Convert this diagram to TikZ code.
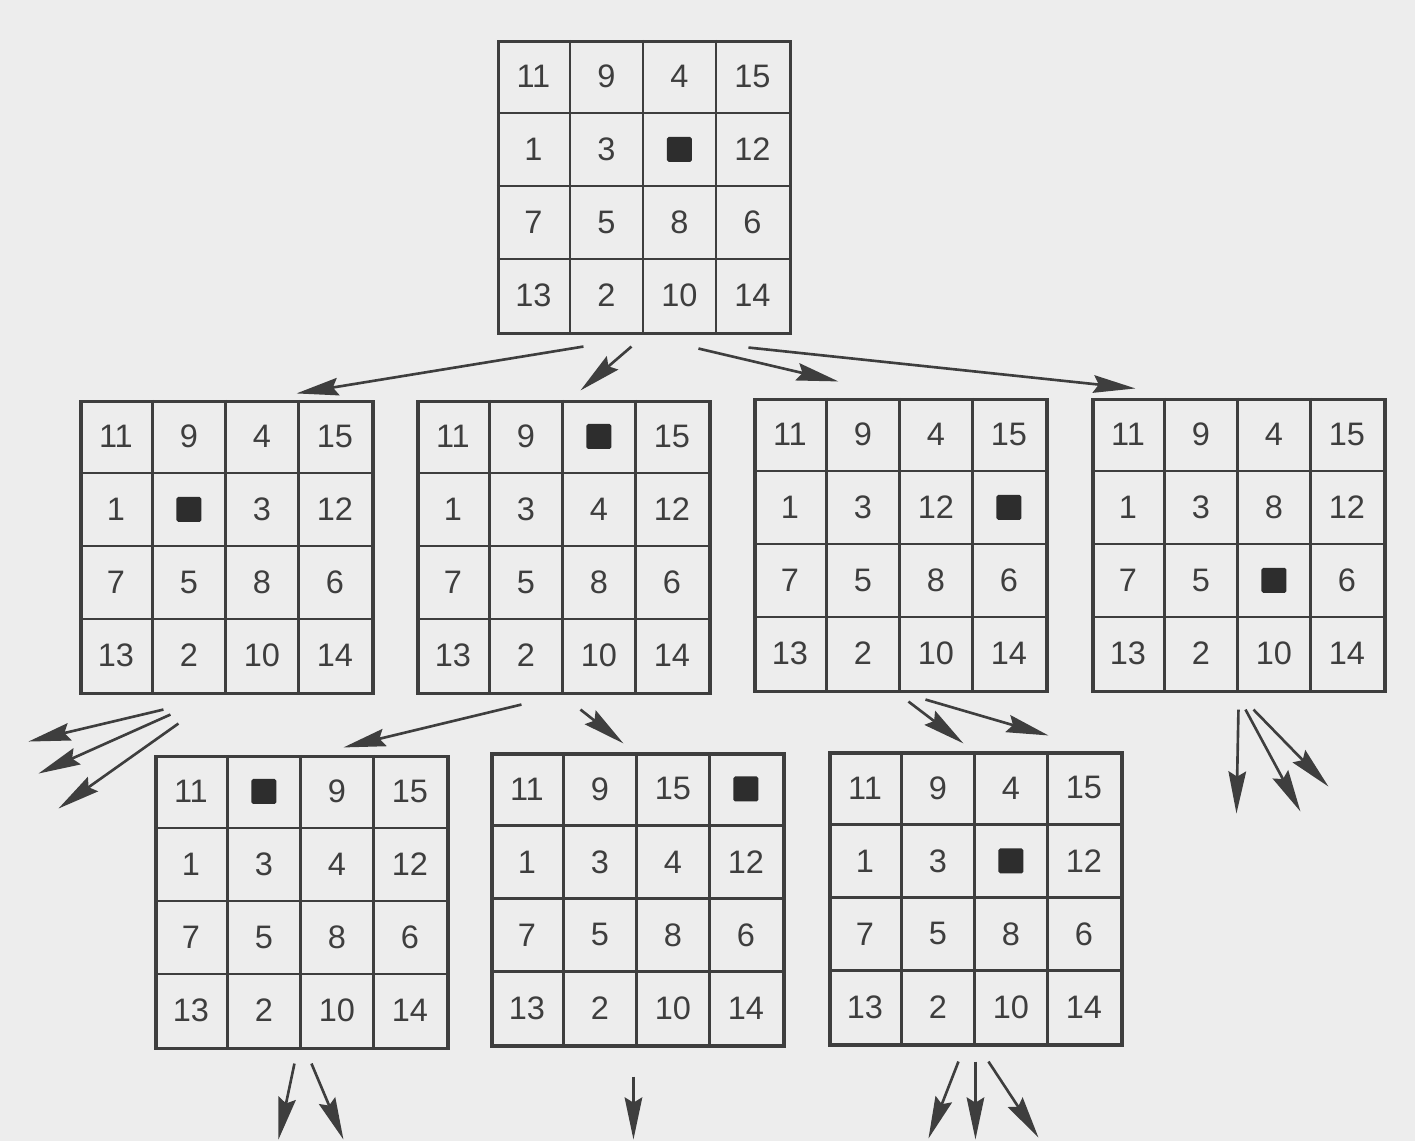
\documentclass[tikz,border=0pt]{standalone}
\usepackage{fontspec}
\setmainfont{Liberation Sans}
\usetikzlibrary{positioning, arrows.meta, calc}
\usepackage{xcolor}
\definecolor{papercolor}{RGB}{237, 237, 237}
\definecolor{inkcolor}{RGB}{62, 62, 62}
\definecolor{holecolor}{RGB}{45, 45, 45}

% one 4x4 board: name, centre, sixteen entries row by row (0 = empty tile)
\newcommand{\puzzle}[3]{%
  \node[draw=inkcolor, line width=1.8pt, minimum size=5.84cm,
        inner sep=0pt] (#1) at (#2) {};
  \foreach \k in {1,2,3} {
    \draw[gridline] ([xshift=\k*1.46cm]#1.north west) -- ([xshift=\k*1.46cm]#1.south west);
    \draw[gridline] ([yshift=-\k*1.46cm]#1.north west) -- ([yshift=-\k*1.46cm]#1.north east);
  }
  \foreach \v [count=\i from 0] in {#3} {
    \pgfmathtruncatemacro\trow{\i/4}
    \pgfmathtruncatemacro\tcol{mod(\i,4)}
    \ifnum\v=0\relax
      \node[holetile] at ([shift={(\tcol*1.46cm+0.73cm,-\trow*1.46cm-0.73cm)}]#1.north west) {};
    \else
      \node[tilenum] at ([shift={(\tcol*1.46cm+0.73cm,-\trow*1.46cm-0.73cm)}]#1.north west) {\v};
    \fi
  }
}

\begin{document}
\begin{tikzpicture}[x=0.02cm, y=-0.02cm,
    gridline/.style={draw=inkcolor, line width=1.5pt},
    tilenum/.style={text=inkcolor, font=\fontsize{18.5}{21}\selectfont, inner sep=0pt},
    holetile/.style={fill=holecolor, minimum size=0.5cm, inner sep=0pt, rounded corners=1pt},
    move/.style={draw=inkcolor, line width=1.5pt, -{Stealth[length=24pt, width=10pt, inset=3pt]}}]
  \fill[papercolor] (0,0) rectangle (1415,1141);
  \useasboundingbox (0,0) rectangle (1415,1141);

  % start position
  \puzzle{top}{644.5,187.5}{11,9,4,15, 1,3,0,12, 7,5,8,6, 13,2,10,14}

  % first level
  \puzzle{left}{227,547.5}{11,9,4,15, 1,0,3,12, 7,5,8,6, 13,2,10,14}
  \puzzle{up}{564,547.5}{11,9,0,15, 1,3,4,12, 7,5,8,6, 13,2,10,14}
  \puzzle{right}{901,545.5}{11,9,4,15, 1,3,12,0, 7,5,8,6, 13,2,10,14}
  \puzzle{down}{1239,545.5}{11,9,4,15, 1,3,8,12, 7,5,0,6, 13,2,10,14}

  % second level
  \puzzle{upleft}{302,902.5}{11,0,9,15, 1,3,4,12, 7,5,8,6, 13,2,10,14}
  \puzzle{upright}{638,900}{11,9,15,0, 1,3,4,12, 7,5,8,6, 13,2,10,14}
  \puzzle{updown}{976,899}{11,9,4,15, 1,3,0,12, 7,5,8,6, 13,2,10,14}

  % moves
  \draw[move] ([shift={(86.5,11.5)}]top.south west) -- ([shift={(217,-6.5)}]left.north west);
  \draw[move] ([shift={(134.5,11.5)}]top.south west) -- ([shift={(164,-9.5)}]up.north west);
  \draw[move] ([shift={(201.5,13.5)}]top.south west) -- ([shift={(85,-16.5)}]right.north west);
  \draw[move] ([shift={(251.5,12.5)}]top.south west) -- ([shift={(44,-9.5)}]down.north west);

  \draw[move] ([shift={(84,14.5)}]left.south west) -- ([shift={(-51,46.5)}]left.south west);
  \draw[move] ([shift={(91,19.5)}]left.south west) -- ([shift={(-41,78.5)}]left.south west);
  \draw[move] ([shift={(99,28.5)}]left.south west) -- ([shift={(-21,113.5)}]left.south west);

  \draw[move] ([shift={(105,9.5)}]up.south west) -- ([shift={(189,-7.5)}]upleft.north west);
  \draw[move] ([shift={(164,14.5)}]up.south west) -- ([shift={(133,-9)}]upright.north west);

  \draw[move] ([shift={(155,8.5)}]right.south west) -- ([shift={(135,-8)}]updown.north west);
  \draw[move] ([shift={(172,6.5)}]right.south west) -- ([shift={(220,-16)}]updown.north west);

  \draw[move] ([shift={(147,16.5)}]down.south west) -- ([shift={(145,120.5)}]down.south west);
  \draw[move] ([shift={(154,16.5)}]down.south west) -- ([shift={(209,118.5)}]down.south west);
  \draw[move] ([shift={(162,16.5)}]down.south west) -- ([shift={(237,93.5)}]down.south west);

  \draw[move] ([shift={(140,13.5)}]upleft.south west) -- ([shift={(124,89.5)}]upleft.south west);
  \draw[move] ([shift={(157,13.5)}]upleft.south west) -- ([shift={(189,89.5)}]upleft.south west);

  \draw[move] ([shift={(143,29)}]upright.south west) -- ([shift={(143,92)}]upright.south west);

  \draw[move] ([shift={(130,15)}]updown.south west) -- ([shift={(100,92)}]updown.south west);
  \draw[move] ([shift={(147,15)}]updown.south west) -- ([shift={(147,93)}]updown.south west);
  \draw[move] ([shift={(160,15)}]updown.south west) -- ([shift={(210,91)}]updown.south west);
\end{tikzpicture}
\end{document}
